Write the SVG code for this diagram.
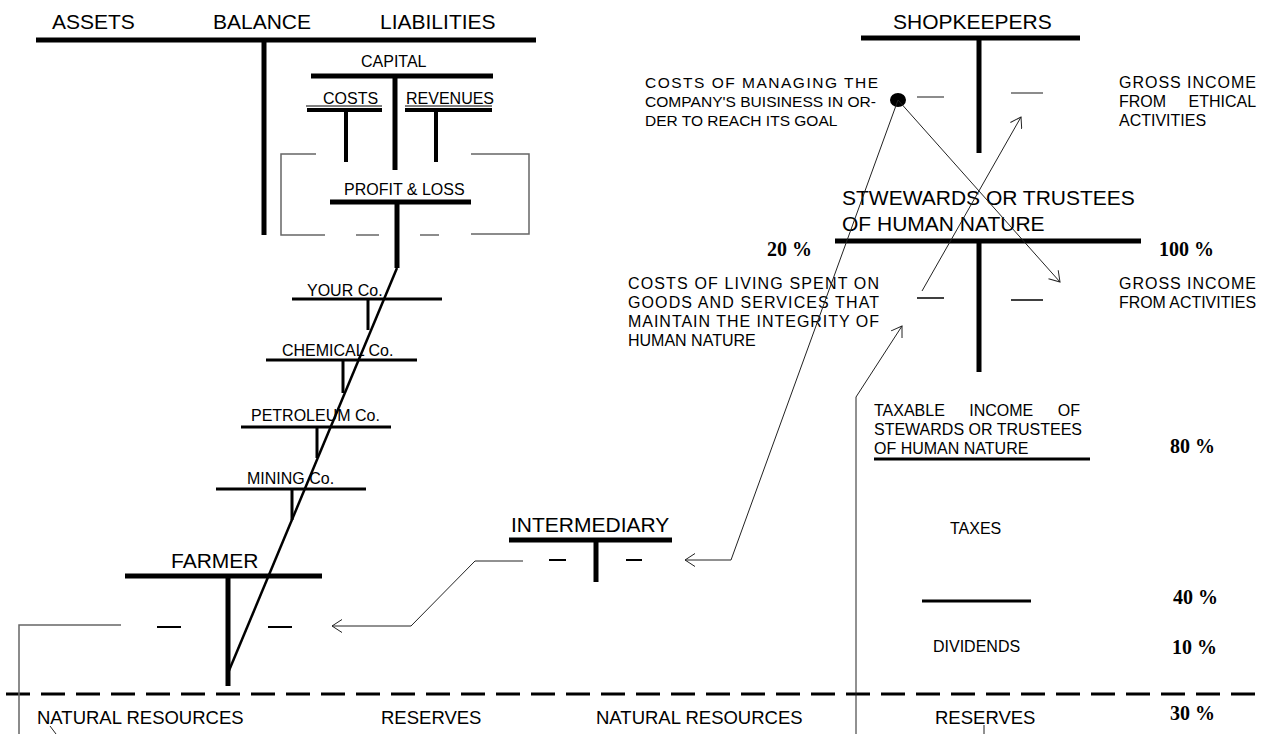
<svg xmlns="http://www.w3.org/2000/svg" width="1266" height="734" viewBox="0 0 1266 734">
<style>
text{font-family:"Liberation Sans",Arial,sans-serif;fill:#000}
.big{font-size:21px}
.mid{font-size:16px}
.sm{font-size:16px}
.bot{font-size:18.5px}
.pct{font-family:"Liberation Serif","Times New Roman",serif;font-size:20px;font-weight:bold}
.thick{stroke:#000;stroke-width:5;fill:none}
.bar4{stroke:#000;stroke-width:4;fill:none}
.bar3{stroke:#000;stroke-width:3;fill:none}
.thin{stroke:#000;stroke-width:1;fill:none}
.dash{stroke:#000;stroke-width:2;fill:none}
.gray{stroke:#666;stroke-width:1.5;fill:none}
.conn{stroke:#222;stroke-width:1;fill:none}
</style>
<defs>
<marker id="arr" viewBox="0 0 12 14" refX="11" refY="7" markerWidth="12" markerHeight="14" markerUnits="userSpaceOnUse" orient="auto">
<path d="M1,0.5 L11,7 L1,13.5" fill="none" stroke="#222" stroke-width="1"/>
</marker>
</defs>

<g id="balance">
<text class="big" x="52" y="29">ASSETS</text>
<text class="big" x="213" y="29">BALANCE</text>
<text class="big" x="380" y="29">LIABILITIES</text>
<line class="thick" x1="36" y1="40" x2="536" y2="40"/>
<line class="thick" x1="264" y1="40" x2="264" y2="235"/>
</g>

<g id="capital">
<text class="mid" x="361" y="67">CAPITAL</text>
<line class="thick" x1="311" y1="76" x2="493" y2="76"/>
<line class="thick" x1="395" y1="76" x2="395" y2="170"/>
</g>

<g id="costs">
<text class="mid" x="323" y="104">COSTS</text>
<line stroke="#000" stroke-width="1" x1="306" y1="106" x2="382" y2="106"/>
<line class="bar4" x1="307" y1="110" x2="382" y2="110"/>
<line class="bar4" x1="346" y1="110" x2="346" y2="162"/>
</g>

<g id="revenues">
<text class="mid" x="406" y="104">REVENUES</text>
<line stroke="#000" stroke-width="1" x1="405" y1="106" x2="492" y2="106"/>
<line class="bar4" x1="405" y1="110" x2="492" y2="110"/>
<line class="bar4" x1="436" y1="110" x2="436" y2="162"/>
</g>

<g id="profit-loss">
<polyline class="gray" points="316,154 281,154 281,235 325,235"/>
<polyline class="gray" points="471,154 529,154 529,234 471,234"/>
<line class="gray" x1="356" y1="235" x2="379" y2="235"/>
<line class="gray" x1="420" y1="235" x2="439" y2="235"/>
<text class="mid" x="344" y="195">PROFIT &amp; LOSS</text>
<line class="thick" x1="330" y1="202" x2="471" y2="202"/>
<line class="thick" x1="397" y1="202" x2="397" y2="268"/>
</g>

<g id="your-co">
<text class="mid" x="307" y="296">YOUR Co.</text>
<line class="bar3" x1="292" y1="299" x2="442" y2="299"/>
<line class="bar3" x1="368" y1="299" x2="368" y2="330"/>
</g>
<g id="chemical-co">
<text class="mid" x="282" y="356">CHEMICAL Co.</text>
<line class="bar3" x1="266" y1="360" x2="417" y2="360"/>
<line class="bar3" x1="343" y1="360" x2="343" y2="393"/>
</g>
<g id="petroleum-co">
<text class="mid" x="251" y="421">PETROLEUM Co.</text>
<line class="bar3" x1="241" y1="427" x2="391" y2="427"/>
<line class="bar3" x1="317" y1="427" x2="317" y2="458"/>
</g>
<g id="mining-co">
<text class="mid" x="247" y="484">MINING Co.</text>
<line class="bar3" x1="216" y1="489" x2="366" y2="489"/>
<line class="bar3" x1="292" y1="489" x2="292" y2="520"/>
</g>

<g id="farmer">
<text class="big" x="171" y="568">FARMER</text>
<line class="thick" x1="125" y1="576" x2="322" y2="576"/>
<line class="thick" x1="228" y1="576" x2="228" y2="686"/>
<line class="dash" x1="157" y1="627" x2="181" y2="627"/>
<line class="dash" x1="268" y1="627" x2="292" y2="627"/>
</g>

<g id="intermediary">
<text class="big" x="511" y="532">INTERMEDIARY</text>
<line class="thick" x1="509" y1="540" x2="672" y2="540"/>
<line class="thick" x1="596" y1="540" x2="596" y2="582"/>
<line class="dash" x1="549" y1="560" x2="566" y2="560"/>
<line class="dash" x1="626" y1="560" x2="642" y2="560"/>
</g>

<g id="shopkeepers">
<text class="big" x="893" y="29">SHOPKEEPERS</text>
<line class="thick" x1="861" y1="38" x2="1080" y2="38"/>
<line class="thick" x1="979" y1="38" x2="979" y2="153"/>
<line class="gray" x1="917" y1="97" x2="944" y2="97"/>
<line class="gray" x1="1011" y1="93" x2="1043" y2="93"/>
<text class="sm" style="font-size:15.5px" x="645" y="88" textLength="233" lengthAdjust="spacing">COSTS OF MANAGING THE</text>
<text class="sm" style="font-size:15.5px" x="645" y="107" textLength="231" lengthAdjust="spacingAndGlyphs">COMPANY'S BUISINESS IN OR-</text>
<text class="sm" style="font-size:15.5px" x="645" y="126">DER TO REACH ITS GOAL</text>
<text class="sm" x="1119" y="88" textLength="137" lengthAdjust="spacing">GROSS INCOME</text>
<text class="sm" x="1119" y="107" style="word-spacing:18px">FROM ETHICAL</text>
<text class="sm" x="1119" y="126">ACTIVITIES</text>
<ellipse cx="898" cy="100" rx="8" ry="7" fill="#000"/>
</g>

<g id="stewards">
<text class="big" x="842" y="205">STWEWARDS OR TRUSTEES</text>
<text class="big" x="842" y="231">OF HUMAN NATURE</text>
<line class="thick" x1="835" y1="241" x2="1141" y2="241"/>
<line class="thick" x1="979" y1="241" x2="979" y2="372"/>
<line stroke="#000" stroke-width="1.5" x1="917" y1="298" x2="944" y2="298"/>
<line stroke="#000" stroke-width="1.5" x1="1011" y1="300" x2="1043" y2="300"/>
<text class="pct" x="767" y="256">20 %</text>
<text class="pct" x="1159" y="256">100 %</text>
<text class="sm" x="628" y="289" textLength="251" lengthAdjust="spacing">COSTS OF LIVING SPENT ON</text>
<text class="sm" x="628" y="308" textLength="251" lengthAdjust="spacing">GOODS AND SERVICES THAT</text>
<text class="sm" x="628" y="327" textLength="251" lengthAdjust="spacing">MAINTAIN THE INTEGRITY OF</text>
<text class="sm" x="628" y="346">HUMAN NATURE</text>
<text class="sm" x="1119" y="289" textLength="137" lengthAdjust="spacing">GROSS  INCOME</text>
<text class="sm" x="1119" y="308" textLength="137" lengthAdjust="spacingAndGlyphs">FROM ACTIVITIES</text>
</g>

<g id="taxable-income">
<text class="sm" x="874" y="416" style="word-spacing:20px">TAXABLE INCOME OF</text>
<text class="sm" x="874" y="435" textLength="208" lengthAdjust="spacing">STEWARDS OR TRUSTEES</text>
<text class="sm" x="874" y="454">OF HUMAN NATURE</text>
<line class="bar3" x1="874" y1="459" x2="1090" y2="459"/>
<text class="pct" x="1170" y="453">80 %</text>
</g>

<g id="taxes">
<text class="sm" x="950" y="534">TAXES</text>
<line class="bar3" x1="922" y1="601" x2="1031" y2="601"/>
<text class="pct" x="1173" y="604">40 %</text>
</g>

<g id="dividends">
<text class="sm" x="933" y="652">DIVIDENDS</text>
<text class="pct" x="1172" y="654">10 %</text>
</g>

<g id="ground">
<line stroke="#000" stroke-width="3" stroke-dasharray="24 11" x1="6" y1="694" x2="1260" y2="694"/>
<text class="bot" x="37" y="724">NATURAL RESOURCES</text>
<text class="bot" x="381" y="724">RESERVES</text>
<text class="bot" x="596" y="724">NATURAL RESOURCES</text>
<text class="bot" x="935" y="724">RESERVES</text>
<text class="pct" x="1170" y="720">30 %</text>
</g>

<g id="connectors">
<line stroke="#000" stroke-width="2.5" x1="397" y1="268" x2="228" y2="673"/>
<polyline class="gray" points="121,625 19,625 19,734"/>
<line class="conn" x1="50" y1="726" x2="56" y2="734"/>
<line class="conn" x1="984" y1="725" x2="984" y2="734"/>
<polyline class="conn" points="523,561 475,561 411,626 332,626" marker-end="url(#arr)"/>
<polyline class="conn" points="898,100 731,560 685,560" marker-end="url(#arr)"/>
<line class="conn" x1="898" y1="100" x2="1060" y2="282" marker-end="url(#arr)"/>
<line class="conn" x1="922" y1="291" x2="1021" y2="117" marker-end="url(#arr)"/>
<polyline class="conn" stroke="#444" points="856,734 856,397 902,326" marker-end="url(#arr)"/>
</g>
</svg>
